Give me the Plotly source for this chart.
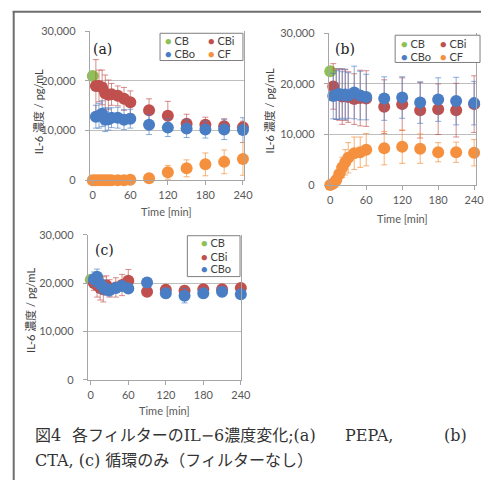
import plotly.graph_objects as go

# ---------------- data ----------------
TIMES = [5, 10, 15, 20, 25, 30, 40, 50, 60, 90, 120, 150, 180, 210, 240]
CF_TIMES = [0, 5, 10, 15, 20, 25, 30, 40, 50, 60, 90, 120, 150, 180, 210, 240]
CB_TIME = [0]
X_TICKS = [0, 60, 120, 180, 240]
Y_TICKS = [0, 10000, 20000, 30000]
Y_TICK_LABELS = ["0", "10,000", "20,000", "30,000"]
SERIES_NAMES = ["CB", "CBi", "CBo", "CF"]
COLORS = ["#8DC152", "#C0504D", "#4A7EC4", "#F5913E"]
ERR_COLORS = ["rgba(141,193,82,0.7)", "rgba(192,80,77,0.65)", "rgba(74,126,196,0.65)", "rgba(245,145,62,0.7)"]
PANEL_LABELS = ["(a)", "(b)", "(c)"]
X_TITLE = "Time [min]"
Y_TITLE = "IL-6 濃度 / pg/mL"
CAPTION_1 = ["図4", "各フィルターのIL−6濃度変化;(a)", "PEPA,", "(b)"]
CAPTION_2 = "CTA, (c) 循環のみ（フィルターなし）"

# panel (a) PEPA
CB_A = [21000]
CBI_A = [19000, 19000, 18700, 17500, 17200, 17300, 17000, 16400, 15700, 14100, 13000, 11400, 11200, 10900, 10700]
CBI_A_ERR = [5300, 3200, 3500, 3700, 3000, 2200, 2000, 2300, 2300, 2300, 2900, 1900, 1500, 1500, 1200]
CBO_A = [12800, 13000, 13400, 12200, 12300, 12600, 12600, 12200, 12400, 11200, 10600, 10400, 10200, 10200, 10100]
CBO_A_ERR = [2300, 2500, 2600, 2400, 2200, 2000, 2100, 2000, 1900, 2000, 1800, 1800, 1700, 2000, 2500]
CF_A = [0, 0, 0, 0, 0, 0, 0, 0, 0, 100, 400, 1600, 2400, 3200, 3700, 4300]
CF_A_ERR = [0, 0, 0, 0, 0, 0, 0, 0, 0, 100, 300, 1400, 1700, 2300, 2400, 3300]

# panel (b) CTA
CB_B = [22500]
CBI_B = [19500, 18000, 17800, 17500, 17800, 17400, 17000, 17200, 17100, 15500, 16000, 14800, 15000, 14800, 16000]
CBI_B_ERR = [4500, 5000, 5000, 5500, 5000, 5000, 5000, 5500, 5500, 5300, 5200, 5500, 5000, 5300, 5600]
CBO_B = [17600, 17800, 18000, 17800, 17900, 17700, 18300, 17700, 17400, 17100, 17300, 16300, 16900, 16600, 16200]
CBO_B_ERR = [4500, 4800, 5000, 4600, 5000, 4500, 5200, 4800, 4500, 4300, 4100, 4100, 4300, 4700, 4300]
CF_B = [0, 300, 1000, 2200, 3500, 4500, 5400, 6300, 6500, 7000, 7300, 7600, 7200, 6500, 6500, 6400]
CF_B_ERR = [0, 300, 800, 1500, 2000, 2500, 3000, 3200, 3000, 3200, 3300, 3300, 2900, 1900, 2000, 2600]

# panel (c) circulation only
CB_C = [20700]
CBI_C = [20000, 19600, 19000, 18700, 19500, 18900, 19100, 19600, 20500, 18200, 18600, 18400, 18700, 18700, 19000]
CBI_C_ERR = [1500, 2500, 2500, 2600, 2000, 1800, 2000, 2200, 2300, 800, 1000, 1000, 800, 800, 700]
CBO_C = [20800, 21300, 19800, 19200, 18700, 18500, 19000, 19400, 18900, 20100, 17900, 17400, 17900, 18200, 17700]
CBO_C_ERR = [1500, 1600, 1800, 1500, 1200, 1200, 1000, 1000, 900, 1000, 1000, 1500, 1000, 1000, 800]

# ---------------- layout helpers ----------------
W, H = 491, 486


def px(x):
    return x / W


def py(y):
    return 1 - y / H


PANELS = [
    dict(left=90, right=248, top=25, bottom=178, xr=[-4.7, 241.6],
         ytitle_x=37, ytitle_y=108, xtitle_y=210, label=(91, 43),
         legend=dict(box=(162, 27, 247, 55), cols=(170, 214), rows=(34, 48), ncol=2),
         series=[(CB_TIME, CB_A, None), (TIMES, CBI_A, CBI_A_ERR),
                 (TIMES, CBO_A, CBO_A_ERR), (CF_TIMES, CF_A, CF_A_ERR)]),
    dict(left=335, right=486, top=27, bottom=183, xr=[-2.4, 243.3],
         ytitle_x=274, ytitle_y=107, xtitle_y=217, label=(339, 43),
         legend=dict(box=(403, 29, 490, 57), cols=(412, 452), rows=(37, 51), ncol=2),
         series=[(CB_TIME, CB_B, None), (TIMES, CBI_B, CBI_B_ERR),
                 (TIMES, CBO_B, CBO_B_ERR), (CF_TIMES, CF_B, CF_B_ERR)]),
    dict(left=88, right=245, top=234, bottom=383, xr=[-4.7, 240.3],
         ytitle_x=29, ytitle_y=312, xtitle_y=415, label=(93, 250),
         legend=dict(box=(190, 235, 244, 277), cols=(207,), rows=(242, 256, 269), ncol=1),
         series=[(CB_TIME, CB_C, None), (TIMES, CBI_C, CBI_C_ERR),
                 (TIMES, CBO_C, CBO_C_ERR)]),
]

FONT = "Lato, Noto Sans CJK JP, sans-serif"
SERIF = "DejaVu Serif, Noto Sans CJK JP, serif"
GRID = "#BEBEBE"
AXIS = "#A6A6A6"
TXT = "#595959"

fig = go.Figure()
annotations = []
shapes = []

for i, p in enumerate(PANELS):
    n = "" if i == 0 else str(i + 1)
    xa, ya = "x" + n, "y" + n
    for k, (xs, ys, err) in enumerate(p["series"]):
        tr = dict(x=xs, y=ys, mode="markers", name=SERIES_NAMES[k],
                  marker=dict(color=COLORS[k], size=12, line=dict(width=0)),
                  showlegend=False, cliponaxis=False, xaxis=xa, yaxis=ya)
        if err is not None:
            tr["error_y"] = dict(type="data", array=err, visible=True,
                                 color=ERR_COLORS[k], thickness=1, width=3)
        fig.add_trace(go.Scatter(**tr))

    fig.layout["xaxis" + n] = dict(
        domain=[px(p["left"]), px(p["right"])], range=p["xr"], anchor=ya,
        tickvals=X_TICKS, ticktext=[str(v) for v in X_TICKS],
        showgrid=False, zeroline=False, showline=True, linecolor=AXIS, linewidth=1,
        ticks="outside", ticklen=4, tickcolor=AXIS, ticklabelstandoff=1,
        tickfont=dict(size=11, color=TXT, family=FONT))
    fig.layout["yaxis" + n] = dict(
        domain=[py(p["bottom"]), py(p["top"])], range=[0, 30000], anchor=xa,
        tickvals=Y_TICKS, ticktext=Y_TICK_LABELS,
        showgrid=True, gridcolor=GRID, gridwidth=1, zeroline=False,
        showline=True, mirror=True, linecolor=AXIS, linewidth=1,
        ticks="outside", ticklen=4, tickcolor=AXIS, ticklabelstandoff=7,
        tickfont=dict(size=11, color=TXT, family=FONT))

    annotations.append(dict(text=X_TITLE, xref="paper", yref="paper",
                            x=px((p["left"] + p["right"]) / 2), y=py(p["xtitle_y"]),
                            xanchor="center", yanchor="middle", showarrow=False,
                            font=dict(size=11, color=TXT, family=FONT)))
    annotations.append(dict(text=Y_TITLE, xref="paper", yref="paper", textangle=-90,
                            x=px(p["ytitle_x"]), y=py(p["ytitle_y"]),
                            xanchor="center", yanchor="middle", showarrow=False,
                            font=dict(size=11, color="#404040", family=FONT)))
    annotations.append(dict(text=PANEL_LABELS[i], xref="paper", yref="paper",
                            x=px(p["label"][0]), y=py(p["label"][1]),
                            xanchor="left", yanchor="middle", showarrow=False,
                            font=dict(size=14, color="#222222", family=SERIF)))
    lg = p["legend"]
    x0, y0, x1, y1 = lg["box"]
    shapes.append(dict(type="rect", xref="paper", yref="paper",
                       x0=px(x0), x1=px(x1), y0=py(y1), y1=py(y0),
                       line=dict(color="#7F7F7F", width=1), fillcolor="white", layer="above"))
    for k in range(len(p["series"])):
        col = k % lg["ncol"]
        row = k // lg["ncol"]
        annotations.append(dict(
            text="<span style='color:%s'>●</span> %s" % (COLORS[k], SERIES_NAMES[k]),
            xref="paper", yref="paper", x=px(lg["cols"][col] - 5), y=py(lg["rows"][row]),
            xanchor="left", yanchor="middle", showarrow=False,
            font=dict(size=11, color="#404040", family=FONT)))

# frame lines of the scanned page
shapes.append(dict(type="line", xref="paper", yref="paper", x0=px(12), x1=px(12),
                   y0=py(4), y1=0, line=dict(color="#6E6E6E", width=2)))
shapes.append(dict(type="line", xref="paper", yref="paper", x0=px(11), x1=1,
                   y0=py(5), y1=py(5), line=dict(color="#6E6E6E", width=2)))

# caption (line 1 is justified in the source, so its pieces are placed separately)
CAP_FONT = dict(size=16, color="#333333", family=SERIF)
cap1_pos = [(32, "left"), (70, "left"), (350, "left"), (479, "right")]
for (cx, anchor), seg in zip(cap1_pos, CAPTION_1):
    annotations.append(dict(text=seg, xref="paper", yref="paper", x=px(cx), y=py(440),
                            xanchor=anchor, yanchor="middle", showarrow=False, font=CAP_FONT))
annotations.append(dict(text=CAPTION_2, xref="paper", yref="paper", x=px(32), y=py(466),
                        xanchor="left", yanchor="middle", showarrow=False, font=CAP_FONT))

fig.update_layout(width=W, height=H, margin=dict(l=0, r=0, t=0, b=0),
                  paper_bgcolor="white", plot_bgcolor="white",
                  annotations=annotations, shapes=shapes, showlegend=False,
                  font=dict(family=FONT))

fig.write_html("out.html")
